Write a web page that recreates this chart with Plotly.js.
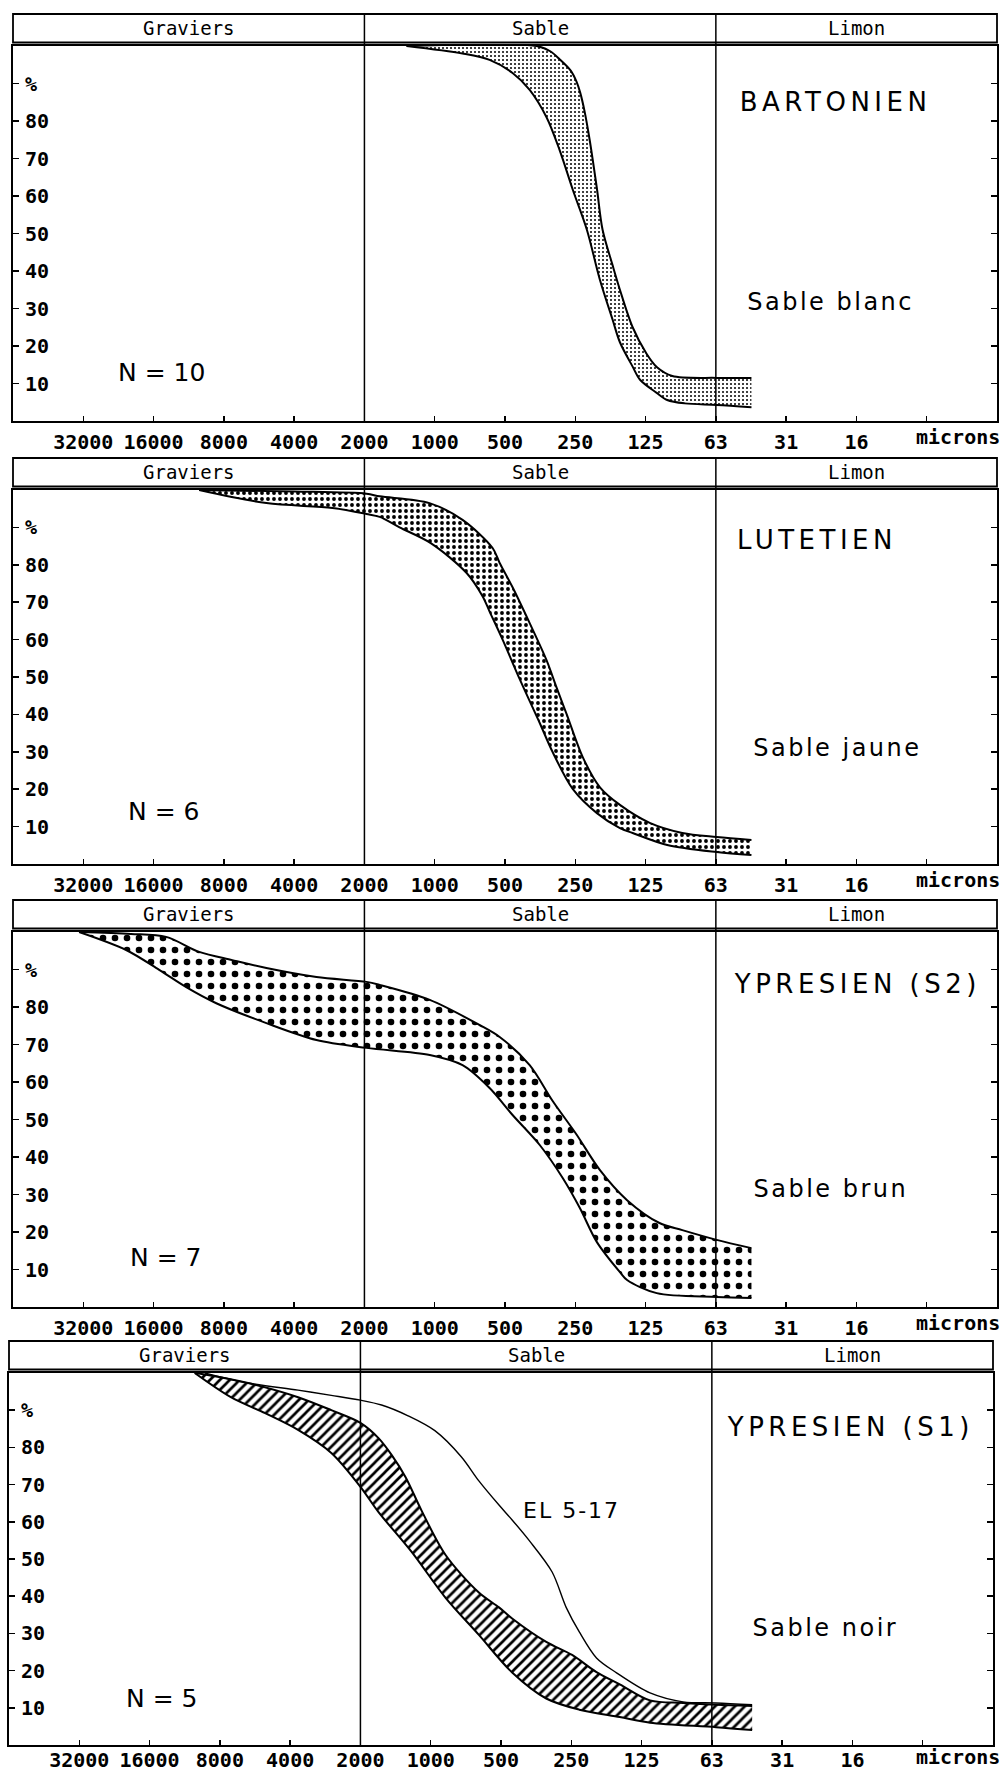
<!DOCTYPE html>
<html>
<head>
<meta charset="utf-8">
<script src="https://cdn.plot.ly/plotly-3.0.1.min.js"></script>
<style>
  html, body { margin: 0; padding: 0; background: #fff; }
  #chart { width: 1005px; height: 1772px; }
</style>
</head>
<body>
<div id="chart"></div>
<script>
// ---------------- DATA ----------------
// grain size axis (microns) and cumulative percent axis
const sizeTicks = [32000, 16000, 8000, 4000, 2000, 1000, 500, 250, 125, 62.5, 31.25, 15.625, 7.8125];
const sizeTickLabels = ['32000', '16000', '8000', '4000', '2000', '1000', '500', '250', '125', '63', '31', '16', ''];
const pctTicks = [10, 20, 30, 40, 50, 60, 70, 80, 90];
const pctTickLabels = ['10', '20', '30', '40', '50', '60', '70', '80', '%'];
const classNames = ['Graviers', 'Sable', 'Limon'];
const classLimits = [2000, 62.5];           // gravel / sand / silt limits (microns)
const unitLabel = 'microns';

const panelTitles = ['BARTONIEN', 'LUTETIEN', 'YPRESIEN (S2)', 'YPRESIEN (S1)'];
const panelSands = ['Sable blanc', 'Sable jaune', 'Sable brun', 'Sable noir'];
const panelN = [10, 6, 7, 5];

// Bartonien envelope
const bartLowerSize = [1320, 760, 582, 464, 392, 332, 292, 256, 223, 196, 173, 161, 142, 132, 112, 101, 85, 62, 44];
const bartLowerPct  = [100, 98, 96.3, 92.8, 88.3, 81, 72.3, 61.6, 51, 37.6, 27, 21, 14.5, 11, 7.5, 5.6, 4.7, 4.3, 3.7];
const bartUpperSize = [1320, 366, 320, 292, 262, 247, 238, 228, 217, 202, 191, 173, 161, 142, 124, 112, 96, 62, 44];
const bartUpperPct  = [100, 100, 98.6, 96.5, 93.5, 90.5, 87.5, 82.5, 75, 62, 51, 41.5, 35, 25, 18, 14.4, 12, 11.5, 11.5];

// Lutetien envelope
const lutLowerSize = [10200, 5260, 2740, 1960, 1720, 1415, 1040, 730, 624, 582, 512, 433, 355, 313, 256, 202, 161, 142, 101, 62, 44];
const lutLowerPct  = [100, 96.5, 95.2, 93.6, 92.8, 90, 85.8, 77.8, 71.6, 67.5, 60, 49.5, 37.7, 30, 20, 13.6, 9.6, 8.3, 5.1, 3.2, 2.4];
const lutUpperSize = [10200, 4000, 1960, 1720, 1053, 760, 565, 527, 464, 392, 332, 300, 272, 232, 196, 161, 120, 87, 62, 44];
const lutUpperPct  = [100, 99.6, 99, 98.3, 96.5, 92, 84.5, 80.5, 74, 64.4, 54.5, 47, 40, 28.5, 20.5, 15.8, 11, 8.3, 7.2, 6.4];

// Ypresien (S2) envelope
const yp2LowerSize = [33350, 20970, 15140, 11600, 8620, 5260, 3210, 1960, 1050, 760, 582, 464, 355, 283, 239, 202, 161, 150, 112, 62, 44];
const yp2LowerPct  = [100, 95.2, 89.9, 85.3, 81, 75.7, 71.2, 69.1, 67.2, 64.5, 58.4, 51.2, 43.2, 34.4, 26.4, 17.3, 9.3, 7.2, 3.7, 2.7, 2.4];
const yp2UpperSize = [33350, 20000, 14140, 10200, 7360, 5260, 3210, 1960, 1720, 1050, 643, 527, 392, 313, 247, 196, 150, 109, 87, 62, 44];
const yp2UpperPct  = [100, 99.5, 98.7, 94.7, 92.5, 90.4, 88, 86.7, 85.9, 81.9, 75.2, 72, 64.5, 55, 46, 36.5, 28.5, 22.4, 20.5, 17.9, 15.7];

// Ypresien (S1) envelope
const yp1LowerSize = [10250, 7180, 5120, 3700, 2665, 2000, 1673, 1207, 862, 622, 448, 320, 231, 155, 115, 60, 42];
const yp1LowerPct  = [100, 93.5, 89.2, 84.7, 78.5, 69.4, 62.6, 51.9, 39.5, 29.6, 19.5, 12.5, 9.5, 7.5, 6, 4.8, 4];
const yp1UpperSize = [10250, 9280, 6060, 3700, 2665, 2000, 1673, 1471, 1281, 1094, 862, 622, 510, 448, 320, 248, 195, 155, 115, 83, 60, 42];
const yp1UpperPct  = [100, 99.6, 97.3, 93.5, 90, 86.6, 82.5, 78, 72, 63, 51, 41, 37, 34, 27.7, 24.2, 19.6, 16.3, 12, 11.3, 10.8, 10.5];

// Sample EL 5-17 (single curve)
const elLabel = 'EL 5-17';
const elSize = [9280, 6060, 3700, 2665, 2000, 1624, 1250, 960, 740, 622, 510, 448, 379, 302, 263, 231, 195, 160, 115, 83, 60, 42];
const elPct  = [100, 97.3, 95.4, 94, 92.7, 91.4, 88.5, 84.5, 77.5, 71, 64.5, 60.5, 55, 46.5, 37, 30.4, 23.4, 19.4, 14, 11.6, 11.3, 10.8];

// ---------------- LAYOUT ----------------
const W = 1005, H = 1772;
const frames = [
  { l: 13, r: 997, t: 46,   b: 421 },
  { l: 13, r: 997, t: 490,  b: 864 },
  { l: 13, r: 997, t: 932,  b: 1307 },
  { l: 9,  r: 993, t: 1373, b: 1745 }
];
const labelStandoff = [2, 2, 2, -4];
const unitOffsetPx = [16, 16, 16, 12];
const HEADER_PX = 32, GAP_PX = 3.5;
const xMax = 64000, xMin = 3.90625;
const titlePx = [[835, 102], [817, 540], [857, 984], [850, 1427]];
const sandPx  = [[830, 302], [837, 748], [831, 1189], [825, 1628]];
const nPx     = [[161, 373], [163, 811], [165, 1257], [161, 1698]];
const elPx    = [571, 1510];
const unitPxX = 958;

const patterns = [
  { shape: '.', size: 4, solidity: 0.2 },
  { shape: '.', size: 6, solidity: 0.32 },
  { shape: '.', size: 12, solidity: 0.24 },
  { shape: '/', size: 7, solidity: 0.38 }
];

const panels = [
  { lowS: bartLowerSize, lowP: bartLowerPct, upS: bartUpperSize, upP: bartUpperPct },
  { lowS: lutLowerSize,  lowP: lutLowerPct,  upS: lutUpperSize,  upP: lutUpperPct },
  { lowS: yp2LowerSize,  lowP: yp2LowerPct,  upS: yp2UpperSize,  upP: yp2UpperPct },
  { lowS: yp1LowerSize,  lowP: yp1LowerPct,  upS: yp1UpperSize,  upP: yp1UpperPct }
];

const tickFont = { family: 'DejaVu Sans Mono, monospace', size: 20, color: '#000', weight: 'bold' };
const headFont = { family: 'DejaVu Sans Mono, monospace', size: 19, color: '#000' };
const bigFont  = { family: 'DejaVu Sans, sans-serif', size: 26, color: '#000' };
const sandFont = { family: 'DejaVu Sans, sans-serif', size: 24, color: '#000' };
const nFont    = { family: 'DejaVu Sans, sans-serif', size: 25, color: '#000' };

const traces = [], shapes = [], annotations = [];
const layout = {
  width: W, height: H,
  margin: { l: 0, r: 0, t: 0, b: 0 },
  paper_bgcolor: '#fff', plot_bgcolor: '#fff',
  showlegend: false
};
const lg = Math.log10;
// fraction of the x domain for a size in microns (axis is reversed, log scale)
const xFrac = v => (lg(xMax) - lg(v)) / (lg(xMax) - lg(xMin));

panels.forEach((p, i) => {
  const s = i === 0 ? '' : String(i + 1);
  const f = frames[i];
  const hpx = f.b - f.t, wpx = f.r - f.l;
  const xa = 'x' + s, ya = 'y' + s;

  layout['xaxis' + s] = {
    type: 'log', domain: [f.l / W, f.r / W], range: [lg(xMax), lg(xMin)],
    anchor: ya, tickmode: 'array', tickvals: sizeTicks, ticktext: sizeTickLabels,
    ticks: 'inside', ticklen: 5, tickwidth: 1.5, tickcolor: '#000',
    showline: true, linewidth: 2, linecolor: '#000', mirror: true,
    showgrid: false, zeroline: false, tickfont: tickFont, ticklabelstandoff: labelStandoff[i],
    fixedrange: true
  };
  layout['yaxis' + s] = {
    domain: [1 - f.b / H, 1 - f.t / H], range: [0, 100], anchor: xa,
    tickmode: 'array', tickvals: pctTicks, ticktext: pctTickLabels,
    ticks: 'inside', ticklen: 6, tickwidth: 1.5, tickcolor: '#000',
    ticklabelposition: 'inside', ticklabelstandoff: 7,
    showline: true, linewidth: 2, linecolor: '#000', mirror: 'ticks',
    showgrid: false, zeroline: false, tickfont: tickFont, fixedrange: true
  };

  // envelope: coarse boundary then fine boundary, filled between
  traces.push({
    type: 'scatter', mode: 'lines', x: p.lowS, y: p.lowP, xaxis: xa, yaxis: ya,
    line: { color: '#000', width: 2, shape: 'spline', smoothing: 0.9 }, hoverinfo: 'skip'
  });
  traces.push({
    type: 'scatter', mode: 'lines', x: p.upS, y: p.upP, xaxis: xa, yaxis: ya,
    line: { color: '#000', width: 2, shape: 'spline', smoothing: 0.9 },
    fill: 'tonexty', fillcolor: 'rgba(255,255,255,0)',
    fillpattern: Object.assign({ fgcolor: '#000', bgcolor: '#fff' }, patterns[i]),
    hoverinfo: 'skip'
  });
  if (i === 3) {
    traces.push({
      type: 'scatter', mode: 'lines', x: elSize, y: elPct, xaxis: xa, yaxis: ya,
      line: { color: '#000', width: 1.4, shape: 'spline', smoothing: 0.9 }, hoverinfo: 'skip'
    });
  }

  const gap = GAP_PX / hpx, hdr = HEADER_PX / hpx;
  // header box
  shapes.push({ type: 'rect', xref: xa + ' domain', yref: ya + ' domain',
    x0: 0, x1: 1, y0: 1 + gap, y1: 1 + hdr, line: { color: '#000', width: 1.8 } });
  // class limit lines through plot and header
  classLimits.forEach(v => {
    shapes.push({ type: 'line', xref: xa + ' domain', yref: ya + ' domain',
      x0: xFrac(v), x1: xFrac(v), y0: 0, y1: 1 + hdr, line: { color: '#000', width: 1.5 } });
  });
  // class names, centred in each class
  const bounds = [0, xFrac(classLimits[0]), xFrac(classLimits[1]), 1];
  classNames.forEach((c, k) => {
    annotations.push({ text: c, xref: xa + ' domain', yref: ya + ' domain',
      x: (bounds[k] + bounds[k + 1]) / 2, y: 1 + (gap + hdr) / 2,
      xanchor: 'center', yanchor: 'middle', showarrow: false, font: headFont });
  });
  // unit label
  annotations.push({ text: unitLabel, xref: xa + ' domain', yref: ya + ' domain',
    x: (unitPxX - f.l) / wpx, y: -unitOffsetPx[i] / hpx, xanchor: 'center', yanchor: 'middle',
    showarrow: false, font: tickFont });

  const fx = X => (X - f.l) / wpx, fy = Y => (f.b - Y) / hpx;
  annotations.push({ text: panelTitles[i], xref: xa + ' domain', yref: ya + ' domain',
    x: fx(titlePx[i][0]), y: fy(titlePx[i][1]), xanchor: 'center', yanchor: 'middle',
    showarrow: false, font: bigFont });
  annotations.push({ text: panelSands[i], xref: xa + ' domain', yref: ya + ' domain',
    x: fx(sandPx[i][0]), y: fy(sandPx[i][1]), xanchor: 'center', yanchor: 'middle',
    showarrow: false, font: sandFont });
  annotations.push({ text: 'N = ' + panelN[i], xref: xa + ' domain', yref: ya + ' domain',
    x: fx(nPx[i][0]), y: fy(nPx[i][1]), xanchor: 'center', yanchor: 'middle',
    showarrow: false, font: nFont });
  if (i === 3) {
    annotations.push({ text: elLabel, xref: xa + ' domain', yref: ya + ' domain',
      x: fx(elPx[0]), y: fy(elPx[1]), xanchor: 'center', yanchor: 'middle',
      showarrow: false, font: { family: 'DejaVu Sans, sans-serif', size: 22, color: '#000' } });
  }
});

layout.shapes = shapes;
layout.annotations = annotations;

Plotly.newPlot('chart', traces, layout, { staticPlot: true, displayModeBar: false }).then(gd => {
  gd.querySelectorAll('.annotation-text').forEach(t => {
    const txt = t.textContent;
    if (panelTitles.includes(txt)) t.style.letterSpacing = '4.5px';
    else if (panelSands.includes(txt)) t.style.letterSpacing = '2.5px';
    else if (txt === elLabel) t.style.letterSpacing = '2px';
  });
});
</script>
</body>
</html>
